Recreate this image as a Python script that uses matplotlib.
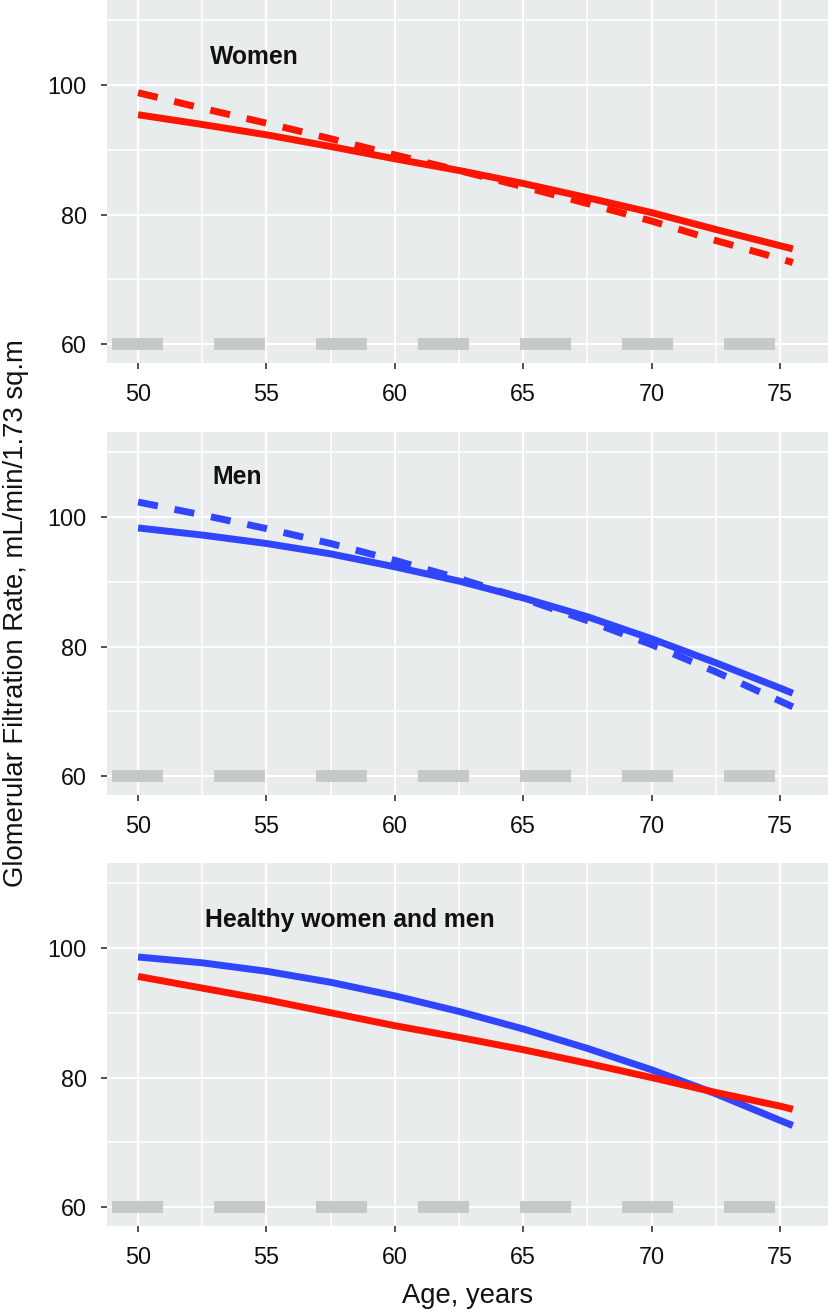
import matplotlib
matplotlib.use("Agg")
import matplotlib.pyplot as plt
from matplotlib.ticker import MultipleLocator

plt.rcParams['font.family'] = ['Liberation Sans', 'DejaVu Sans']

# ---- data ----
age = [50, 52.5, 55, 57.5, 60, 62.5, 65, 67.5, 70, 72.5, 75, 75.5]

women_solid = [95.4, 93.9, 92.3, 90.5, 88.6, 86.8, 84.8, 82.6, 80.3, 77.7, 75.2, 74.7]
women_dashed = [98.8, 96.4, 94.1, 91.7, 89.2, 86.8, 84.3, 81.7, 79.0, 76.0, 73.2, 72.6]
men_solid = [98.3, 97.2, 95.9, 94.3, 92.3, 90.1, 87.5, 84.6, 81.2, 77.5, 73.6, 72.8]
men_dashed = [102.3, 100.3, 98.2, 95.9, 93.3, 90.5, 87.4, 84.0, 80.3, 76.1, 71.6, 70.7]
healthy_women = [95.6, 93.8, 92.0, 90.0, 88.0, 86.2, 84.3, 82.2, 80.0, 77.7, 75.6, 75.1]
healthy_men = [98.6, 97.7, 96.4, 94.7, 92.6, 90.2, 87.5, 84.5, 81.2, 77.5, 73.4, 72.6]

ref_y = 60
ref_x = [49, 75]

panel_titles = ["Women", "Men", "Healthy women and men"]
title_pos = [(52.8, 104.3), (52.88, 106.2), (52.6, 104.3)]

x_ticks = [50, 55, 60, 65, 70, 75]
y_ticks = [60, 80, 100]

RED = "#FF1400"
BLUE = "#2F45FF"
PANEL_BG = "#E9ECED"
REF_GRAY = "#C5CAC8"

W, H = 829, 1310
fig = plt.figure(figsize=(W / 100, H / 100), dpi=100)

left = 107 / W
width = (W - 107) / W
panel_h = 363 / H
tops = [0, 432, 863]

series = [
    [(women_solid, RED, '-'), (women_dashed, RED, '--')],
    [(men_solid, BLUE, '-'), (men_dashed, BLUE, '--')],
    [(healthy_men, BLUE, '-'), (healthy_women, RED, '-')],
]

lw = 5.0
dash_style = (0, (2.9, 2.45))

for i, top in enumerate(tops):
    bottom = 1 - (top + 363) / H
    ax = fig.add_axes([left, bottom, width, panel_h])
    ax.set_facecolor(PANEL_BG)
    for s in ax.spines.values():
        s.set_visible(False)
    ax.set_xlim(48.79, 76.91)
    ax.set_ylim(57.1, 113.1)
    ax.set_xticks(x_ticks)
    ax.set_yticks(y_ticks)
    ax.xaxis.set_minor_locator(MultipleLocator(2.5))
    ax.yaxis.set_minor_locator(MultipleLocator(10))
    ax.grid(which='major', color='white', linewidth=1.5)
    ax.grid(which='minor', color='white', linewidth=1.2)
    ax.tick_params(which='minor', length=0)
    ax.tick_params(which='major', length=4.5, width=1.2, color='#333333',
                   labelsize=16.8, labelcolor='#111111', pad=10)
    ax.set_axisbelow(True)

    # reference line at 60
    ax.plot(ref_x, [ref_y, ref_y], color=REF_GRAY, linewidth=8.6,
            linestyle=(0, (4.27, 4.27)), solid_capstyle='butt',
            dash_capstyle='butt', zorder=2)

    for vals, col, ls in series[i]:
        if ls == '--':
            ax.plot(age, vals, color=col, linewidth=lw, linestyle=dash_style,
                    dash_capstyle='butt', dash_joinstyle='round', zorder=3)
        else:
            ax.plot(age, vals, color=col, linewidth=lw, solid_capstyle='butt',
                    solid_joinstyle='round', zorder=3)

    tx, ty = title_pos[i]
    ax.text(tx, ty, panel_titles[i], fontsize=17.8, fontweight='bold',
            color='#111111', ha='left', va='center')

fig.text(16 / W, 1 - 613 / H, "Glomerular Filtration Rate, mL/min/1.73 sq.m",
         rotation=90, ha='center', va='center', fontsize=19.8, color='#111111')
fig.text(468 / W, 1 - 1296 / H, "Age, years", ha='center', va='center',
         fontsize=19.7, color='#111111')

fig.savefig("out.png", dpi=100)
